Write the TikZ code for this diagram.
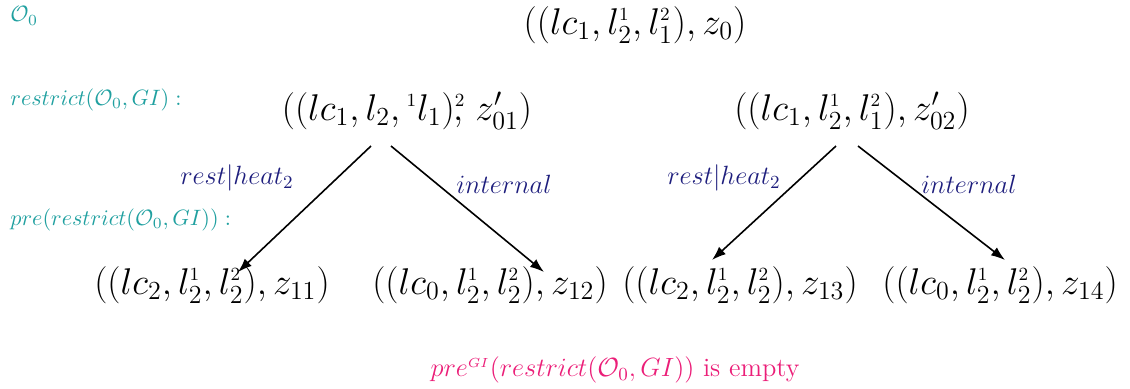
\RequirePackage{fix-cm}
\documentclass[tikz,border=0pt]{standalone}
\usepackage{amsmath, amssymb}
\usepackage{xcolor}
\usetikzlibrary{arrows.meta, positioning}
\definecolor{labteal}{RGB}{32,160,160}
\definecolor{edgeblue}{RGB}{30,30,125}
\definecolor{emptypink}{RGB}{235,30,120}
\newcommand{\up}[1]{^{\scriptscriptstyle #1}}

\begin{document}
\begin{tikzpicture}[x=0.5pt, y=-0.5pt, every node/.style={inner sep=0pt},
    state/.style={font=\fontsize{18.6}{22}\selectfont},
    phase/.style={font=\fontsize{11.1}{13}\selectfont, text=labteal, anchor=west},
    act/.style={font=\fontsize{13.2}{15}\selectfont, text=edgeblue},
    arr/.style={-{Latex[length=7pt, width=5pt]}, line width=0.8pt}]
    \useasboundingbox (0,0) rectangle (1130,389);
    % row labels
    \node[phase] (o0lab) at (10,16) {$\mathcal{O}_0$};
    \node[phase] (reslab) at (10,100) {$restrict(\mathcal{O}_0,GI):$};
    \node[phase] (prelab) at (10,220) {$pre(restrict(\mathcal{O}_0,GI)):$};
    % states
    \node[state] (z0) at (635,25) {$((lc_1,l_2\up{1},l_1\up{2}),z_0)$};
    \node[state] (z01) at (407,111) {$((lc_1,l_2,{}\up{1}l_1)\up{2}\!\!,\,z'_{01})$};
    \node[state] (z02) at (852,111) {$((lc_1,l_2\up{1},l_1\up{2}),z'_{02})$};
    \node[state] (z11) at (212,285) {$((lc_2,l_2\up{1},l_2\up{2}),z_{11})$};
    \node[state] (z12) at (490,285) {$((lc_0,l_2\up{1},l_2\up{2}),z_{12})$};
    \node[state] (z13) at (740,285) {$((lc_2,l_2\up{1},l_2\up{2}),z_{13})$};
    \node[state] (z14) at (1000,285) {$((lc_0,l_2\up{1},l_2\up{2}),z_{14})$};
    % transitions
    \draw[arr] ([xshift=-18pt,yshift=-8pt]z01.south) -- ([xshift=13pt,yshift=-3pt]z11.north);
    \draw[arr] ([xshift=-8pt,yshift=-8pt]z01.south) -- ([xshift=27pt,yshift=-3pt]z12.north);
    \draw[arr] ([xshift=-8pt,yshift=-8pt]z02.south) -- ([xshift=-14pt,yshift=3pt]z13.north);
    \draw[arr] ([xshift=3pt,yshift=-8pt]z02.south) -- ([xshift=2.5pt,yshift=3pt]z14.north);
    \node[act] (a1) at (237,178) {$rest|heat_2$};
    \node[act] (a2) at (504,184) {$internal$};
    \node[act] (a3) at (724,178) {$rest|heat_2$};
    \node[act] (a4) at (969,184) {$internal$};
    % result
    \node[font=\fontsize{13.2}{16}\selectfont, text=emptypink] (empty) at (615,370)
      {$pr e\up{GI}(restrict(\mathcal{O}_0,GI))$ is empty};
\end{tikzpicture}
\end{document}
